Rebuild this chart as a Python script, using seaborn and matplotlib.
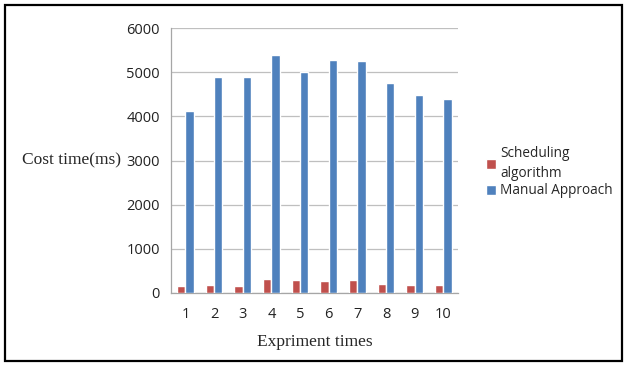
import pandas as pd
import numpy as np
import matplotlib.pyplot as plt
import seaborn as sns
from matplotlib.patches import Rectangle

# ---- data ----
Experiments = ["1", "2", "3", "4", "5", "6", "7", "8", "9", "10"]
Scheduling_Algorithm = [150, 190, 165, 320, 300, 280, 285, 210, 190, 175]
Manual_Approach = [4130, 4890, 4890, 5400, 5000, 5280, 5260, 4760, 4480, 4390]
Series_Names = ["Scheduling\nalgorithm", "Manual Approach"]
Series_Colors = ["#C0504D", "#4F81BD"]

df = pd.DataFrame({
    "Experiment": Experiments * 2,
    "Cost": Scheduling_Algorithm + Manual_Approach,
    "Method": [Series_Names[0]] * len(Experiments) + [Series_Names[1]] * len(Experiments),
})

sns.set_style("white")
plt.rcParams['font.family'] = ['Open Sans', 'DejaVu Sans']

fig = plt.figure(figsize=(6.27, 3.69), dpi=100)
ax = fig.add_axes([0.273, 0.206, 0.457, 0.718])

sns.barplot(data=df, x="Experiment", y="Cost", hue="Method", order=Experiments,
            hue_order=Series_Names, palette=Series_Colors, width=0.58, gap=0,
            saturation=1, ax=ax, zorder=3, legend=True)

ax.set_ylim(0, 6000)
ax.set_xlim(-0.5, len(Experiments) - 0.5)
ax.set_yticks(np.arange(0, 6001, 1000))
ax.yaxis.grid(True, color="#BFBFBF", linewidth=0.9, zorder=0)
ax.set_axisbelow(True)

for side in ["top", "right"]:
    ax.spines[side].set_visible(False)
for side in ["left", "bottom"]:
    ax.spines[side].set_color("#A6A6A6")
    ax.spines[side].set_linewidth(0.9)

ax.tick_params(axis="y", length=4, color="#A6A6A6", labelsize=10.5, pad=4, labelcolor="#222222")
ax.tick_params(axis="x", which="major", length=0, labelsize=10.5, pad=10, labelcolor="#222222")
ax.set_xticks(np.arange(-0.5, len(Experiments), 1), minor=True)
ax.tick_params(axis="x", which="minor", length=5, color="#A6A6A6")

ax.set_xlabel("Expriment times", family="Liberation Serif", fontsize=12.5, labelpad=9)
ax.set_ylabel("")
fig.text(0.035, 0.565, "Cost time(ms)", family="Liberation Serif", fontsize=12.5,
         ha="left", va="center")

# legend on the right, outside the axes
handles, labels = ax.get_legend_handles_labels()
ax.legend_.remove()
leg = fig.legend(handles, labels, loc="upper left", bbox_to_anchor=(0.766, 0.62),
                 frameon=False, fontsize=9.8, handlelength=0.75, handleheight=0.75,
                 handletextpad=0.3, labelspacing=0.2, borderaxespad=0)
for t in leg.get_texts():
    t.set_linespacing(1.45)

# black frame round the whole picture
fig.patches.append(Rectangle((0.008, 0.022), 0.984, 0.965, transform=fig.transFigure,
                             fill=False, edgecolor="black", linewidth=1.6))

plt.savefig("out.png", dpi=100)
plt.close()
